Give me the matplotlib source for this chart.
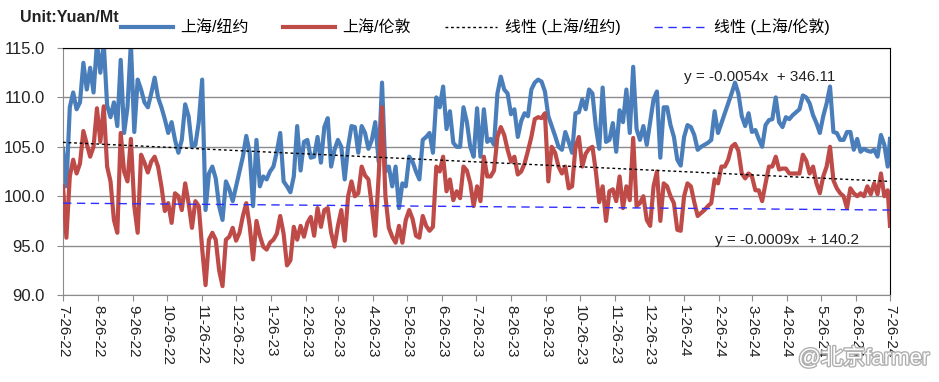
"""Shanghai / New York and Shanghai / London price ratio chart."""

from __future__ import annotations

import matplotlib

matplotlib.use("Agg")
import matplotlib.patheffects as pe
import matplotlib.pyplot as plt
import pandas as pd
from matplotlib.lines import Line2D

plt.rcParams["font.family"] = ["Liberation Sans", "Noto Sans CJK SC", "DejaVu Sans"]

START = "2022-07-26"
END = "2024-07-26"

# readings every 3 days from the start date, last value is the end date
shanghai_ny = [
    104.8, 101.0, 109.0, 110.5, 108.8, 109.5, 113.5, 110.8, 113.0, 110.5,
    115.5, 112.5, 115.5, 109.2, 108.0, 109.5, 107.1, 113.8, 106.4, 109.0,
    115.5, 106.5, 111.8, 110.8, 109.5, 109.0, 110.4, 112.0, 110.0, 109.0,
    107.8, 106.4, 107.5, 105.7, 104.4, 105.7, 109.3, 108.1, 105.0, 105.2,
    107.5, 111.8, 98.6, 102.3, 103.0, 101.8, 99.0, 97.6, 101.5, 100.7,
    99.5, 101.0, 102.5, 104.0, 106.1, 104.4, 99.0, 105.7, 101.0, 102.0,
    101.7, 102.5, 103.0, 104.5, 106.4, 101.5, 101.0, 100.4, 102.0, 107.1,
    102.6, 105.5, 105.7, 103.9, 104.0, 106.0, 103.4, 107.0, 107.9, 103.0,
    104.7, 105.7, 105.0, 101.7, 105.0, 107.1, 107.0, 104.4, 107.1, 106.4,
    104.8, 105.7, 107.5, 103.5, 111.5, 102.5, 103.0, 101.0, 103.0, 98.8,
    101.3, 101.0, 104.0, 103.5, 102.5, 101.7, 105.7, 106.0, 106.4, 104.4,
    110.0, 109.0, 111.1, 106.8, 108.6, 105.4, 105.0, 105.0, 109.0, 107.5,
    105.0, 104.0, 108.9, 104.0, 108.8, 105.5, 105.8, 105.2, 110.4, 112.1,
    110.8, 110.4, 108.3, 108.8, 106.0, 107.6, 108.4, 108.1, 110.8, 111.5,
    111.8, 111.6, 110.6, 108.1, 107.1, 106.1, 105.0, 104.7, 106.5, 105.5,
    104.4, 108.4, 108.5, 109.8, 108.8, 110.8, 110.4, 107.0, 104.8, 111.0,
    105.5, 105.7, 107.4, 104.5, 108.7, 107.5, 110.8, 106.4, 113.1, 106.8,
    105.7, 107.1, 105.2, 107.5, 109.8, 110.6, 103.9, 109.0, 109.0, 107.2,
    106.0, 103.7, 103.1, 106.0, 107.2, 107.0, 106.2, 104.7, 105.0, 105.2,
    105.4, 105.7, 108.6, 106.4, 107.4, 108.4, 109.4, 110.4, 111.5, 110.4,
    108.1, 107.1, 108.4, 106.5, 106.7, 105.8, 105.0, 107.2, 107.7, 107.8,
    110.0, 107.5, 107.0, 108.0, 107.8, 108.2, 108.5, 108.8, 110.2, 110.0,
    109.4, 108.2, 107.4, 106.4, 108.1, 109.4, 111.1, 106.5, 106.4, 105.7,
    105.7, 106.5, 106.5, 104.7, 105.8, 104.5, 104.8, 104.6, 104.5, 104.7,
    104.0, 106.2, 105.2, 103.0, 105.8,
]
shanghai_ldn = [
    101.0, 95.8, 102.0, 103.7, 102.3, 103.3, 106.6, 105.3, 104.0, 105.0,
    108.9, 105.5, 109.1, 103.0, 101.5, 97.6, 96.3, 106.4, 102.5, 101.5,
    105.8, 99.0, 96.3, 104.2, 103.4, 102.4, 103.5, 104.0, 103.0, 101.0,
    98.5, 99.3, 97.3, 100.3, 100.0, 98.6, 101.3, 99.3, 96.8, 99.5,
    99.0, 94.7, 91.0, 95.6, 96.3, 95.6, 92.5, 90.9, 95.6, 95.9,
    96.8, 95.5, 96.3, 98.0, 99.3, 97.0, 93.6, 97.5, 96.0, 94.9,
    94.6, 95.3, 95.6, 96.2, 98.0, 96.2, 93.0, 93.5, 96.9, 95.6,
    97.0, 95.9, 97.3, 97.9, 96.0, 98.8, 96.9, 98.6, 98.8, 96.3,
    94.9, 97.0, 98.6, 95.5, 100.0, 101.5, 100.0, 100.3, 103.0, 102.1,
    101.7, 99.0, 96.0, 102.0, 109.0, 100.0, 96.8, 95.9, 95.3, 97.0,
    95.3, 97.6, 98.6, 97.7, 96.0, 95.8, 98.0, 97.0, 96.5, 96.9,
    103.0, 102.5, 104.0, 100.5, 101.7, 99.6, 100.5, 99.8, 103.0, 102.6,
    101.3, 99.0, 101.0, 99.5, 104.0, 102.0, 102.0, 102.6, 106.0, 107.0,
    106.2, 104.7, 103.5, 104.0, 102.2, 102.5, 103.3, 104.6, 106.0, 107.8,
    108.0, 107.9, 108.4, 101.5, 105.0, 104.4, 103.0, 102.3, 103.0, 100.8,
    101.0, 105.0, 106.0, 103.0, 104.3, 104.8, 105.0, 102.5, 99.4, 101.0,
    97.5, 100.5, 100.7, 99.5, 102.0, 98.8, 101.0, 99.6, 105.9, 99.0,
    99.3, 100.0, 97.6, 97.0, 101.0, 102.5, 97.5, 101.3, 101.0, 100.0,
    99.3, 96.6, 96.5, 100.0, 101.3, 101.0, 99.4, 98.0, 98.3, 98.6,
    99.0, 99.3, 101.7, 101.3, 103.0, 103.0, 103.7, 105.0, 105.3, 104.6,
    102.3, 101.8, 102.3, 102.0, 100.6, 100.6, 99.5, 101.3, 103.0, 103.0,
    104.0, 102.7, 102.8, 102.8, 102.3, 102.3, 102.3, 102.3, 104.2, 103.6,
    102.3, 103.0, 101.3, 100.3, 102.0, 103.0, 105.0, 101.6, 100.8, 100.3,
    100.0, 98.8, 100.8, 100.3, 100.0, 100.3, 100.0, 101.0, 100.2, 101.3,
    100.2, 102.3, 100.0, 100.6, 97.0,
]

# trend lines as drawn (fitted over a longer history), values at start and end date
trend_ny = [105.45, 101.5]
trend_ldn = [99.3, 98.6]

series_names = ["上海/纽约", "上海/伦敦"]
trend_names = ["线性 (上海/纽约)", "线性 (上海/伦敦)"]
trend_labels = ["y = -0.0054x  + 346.11", "y = -0.0009x  + 140.2"]
y_ticks = [90, 95, 100, 105, 110, 115]

BLUE = "#4A7EBB"
RED = "#BE4B48"
TREND_BLUE = "#2F2FFF"


def main() -> None:
    dates = list(pd.date_range(START, periods=len(shanghai_ny) - 1, freq="3D")) + [pd.Timestamp(END)]
    dates = pd.DatetimeIndex(dates)
    month_ticks = pd.date_range(START, END, freq=pd.DateOffset(months=1))
    tick_labels = [f"{d.month}-{d.day}-{d.strftime('%y')}" for d in month_ticks]

    fig = plt.figure(figsize=(9.39, 3.82), dpi=100)
    ax = fig.add_axes([0.0671, 0.2277, 0.8807, 0.6466])

    ax.set_axisbelow(True)
    ax.yaxis.grid(True, color="#8C8C8C", linewidth=1.0)
    ax.plot(dates, shanghai_ny, color=BLUE, linewidth=3.0, solid_joinstyle="round", zorder=2)
    ax.plot(dates, shanghai_ldn, color=RED, linewidth=3.0, solid_joinstyle="round", zorder=3)

    end_dates = [dates[0], dates[-1]]
    ax.plot(end_dates, trend_ny, color="black", linewidth=1.0,
            linestyle=(0, (2, 2)), zorder=4)
    ax.plot(end_dates, trend_ldn, color=TREND_BLUE, linewidth=1.0,
            linestyle=(0, (6, 4)), zorder=4)

    ax.text(0.751, 0.884, trend_labels[0], transform=ax.transAxes, fontsize=11,
            va="center", ha="left", color="#222222")
    ax.text(0.788, 0.224, trend_labels[1], transform=ax.transAxes, fontsize=11,
            va="center", ha="left", color="#222222")

    ax.set_xlim(dates[0], dates[-1])
    ax.set_ylim(90, 115)
    ax.set_yticks(y_ticks)
    ax.set_yticklabels([f"{v:.1f}" for v in y_ticks])
    ax.set_xticks(month_ticks)
    ax.set_xticklabels(tick_labels, rotation=270, ha="center", va="top")
    ax.tick_params(axis="both", direction="out", length=4, color="#8C8C8C",
                   labelsize=11, labelcolor="#222222")
    ax.tick_params(axis="y", labelsize=12, pad=9)
    ax.tick_params(axis="x", pad=3)

    for side in ("left", "bottom"):
        ax.spines[side].set_color("#8C8C8C")
    for side in ("top", "right"):
        ax.spines[side].set_color("black")

    handles = [
        Line2D([], [], color=BLUE, linewidth=3.0),
        Line2D([], [], color=RED, linewidth=3.0),
        Line2D([], [], color="black", linewidth=1.0, linestyle=(0, (2, 2))),
        Line2D([], [], color=TREND_BLUE, linewidth=1.0, linestyle=(0, (6, 4))),
    ]
    fig.legend(handles, series_names + trend_names, loc="center", ncol=4,
               bbox_to_anchor=(0.506, 0.93), frameon=False, fontsize=11.5,
               handlelength=3.3, columnspacing=2.1, handletextpad=0.45)

    fig.text(20 / 939, 1 - 18 / 382, "Unit:Yuan/Mt", fontsize=11.5, fontweight="bold",
             va="center", ha="left", color="#222222")
    fig.text(0.99, 0.062, "@北京farmer", fontsize=16, ha="right", va="center",
             color="white", path_effects=[pe.withStroke(linewidth=2, foreground="#B0B0B0")])

    fig.savefig("out.png", dpi=100)
    plt.close(fig)


if __name__ == "__main__":
    main()
